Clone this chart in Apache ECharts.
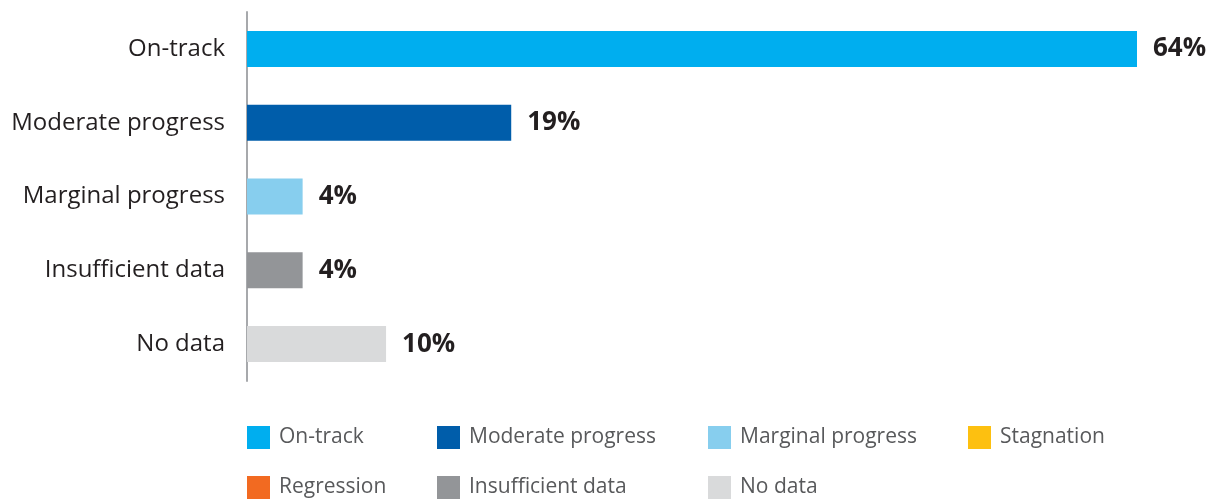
<!DOCTYPE html>
<html>
<head>
<meta charset="utf-8">
<style>
  html, body { margin: 0; padding: 0; background: #fff; }
  #chart { width: 1216px; height: 503px; }
</style>
<script src="https://cdn.jsdelivr.net/npm/echarts@6/dist/echarts.min.js"></script>
</head>
<body>
<div id="chart"></div>
<script>
// Progress status categories, top to bottom
const categories = ['On-track', 'Moderate progress', 'Marginal progress', 'Insufficient data', 'No data'];
// Share of indicators in each status (%)
const shares = [64, 19, 4, 4, 10];
// Legend entries (all statuses, including those with no indicators)
const legendNames = ['On-track', 'Moderate progress', 'Marginal progress', 'Stagnation', 'Regression', 'Insufficient data', 'No data'];
const legendColors = ['#00AEEF', '#005DAA', '#87CEEE', '#FDC010', '#F26A21', '#939598', '#D9DADB'];

const FONT = '"Open Sans", "Noto Sans", sans-serif';

// One stacked series per status so every status gets a legend swatch
const series = legendNames.map((name, i) => {
  const idx = categories.indexOf(name);
  const data = categories.map((c, j) => (j === idx ? shares[j] : '-'));
  return {
    name,
    type: 'bar',
    stack: 'total',
    barWidth: 36,
    itemStyle: { color: legendColors[i] },
    data,
    label: {
      show: true,
      position: 'right',
      distance: 16,
      formatter: p => (p.value === '-' || p.value == null ? '' : p.value + '%'),
      fontFamily: FONT,
      fontWeight: 'bold',
      fontSize: 26,
      color: '#231F20',
      padding: [8, 0, 0, 0]
    },
    emphasis: { disabled: true }
  };
});

// Legend grid positions (x, y of each swatch)
const legendPos = [
  [247, 426], [437, 426], [708, 426], [968, 426],
  [247, 476], [437, 476], [708, 476]
];
const legends = legendNames.map((name, i) => ({
  data: [name],
  left: legendPos[i][0],
  top: legendPos[i][1],
  icon: 'rect',
  itemWidth: 23,
  itemHeight: 23,
  itemGap: 0,
  padding: 0,
  selectedMode: false,
  textStyle: { fontFamily: FONT, fontSize: 21, color: '#58595B', padding: [4, 0, 0, 4] }
}));

const chart = echarts.init(document.getElementById('chart'), null, { renderer: 'canvas' });
chart.setOption({
  animation: false,
  grid: { left: 247, right: 79, top: 12, height: 369, containLabel: false },
  legend: legends,
  xAxis: {
    type: 'value',
    min: 0,
    max: 64,
    show: false
  },
  yAxis: {
    type: 'category',
    data: categories,
    inverse: true,
    axisLine: { show: true, lineStyle: { color: '#A7A9AC', width: 2 } },
    axisTick: { show: false },
    axisLabel: { fontFamily: FONT, fontSize: 24, color: '#231F20', margin: 22 }
  },
  series
});
</script>
</body>
</html>
